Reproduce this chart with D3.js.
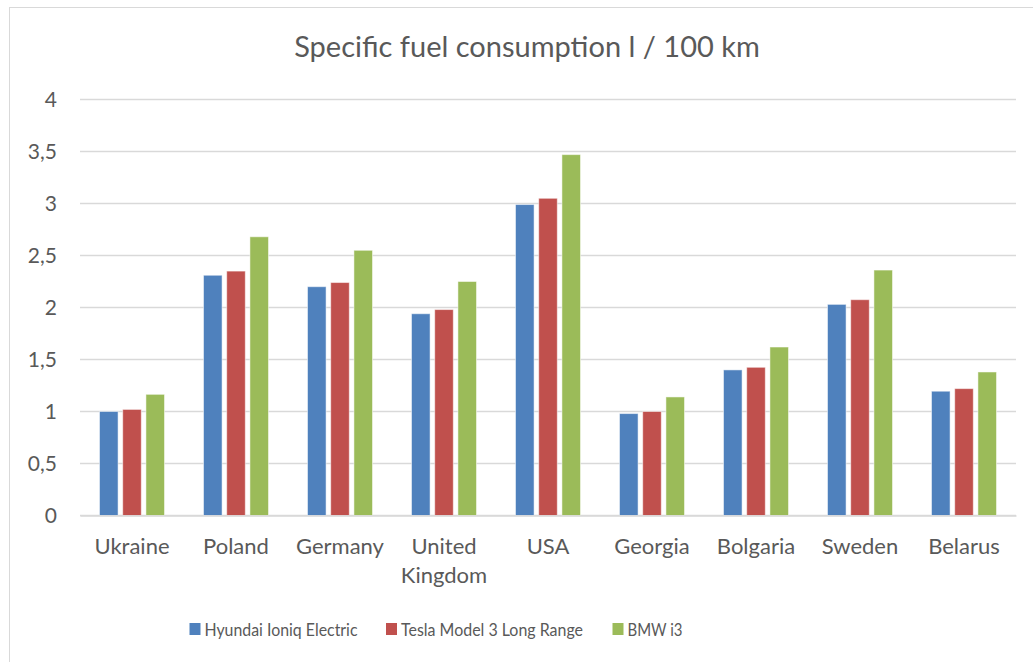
<!DOCTYPE html>
<html>
<head>
<meta charset="utf-8">
<script src="https://cdn.jsdelivr.net/npm/d3@7"></script>
<style>
  body { margin: 0; background: #fff; }
  text { font-family: Lato, "Open Sans", sans-serif; fill: #595959; }
</style>
</head>
<body>
<div id="chart"></div>
<script>
const countries = ["Ukraine", "Poland", "Germany", "United Kingdom", "USA", "Georgia", "Bolgaria", "Sweden", "Belarus"];
const seriesNames = ["Hyundai Ioniq Electric", "Tesla Model 3 Long Range", "BMW i3"];
const hyundai = [1.0, 2.31, 2.2, 1.94, 2.99, 0.98, 1.4, 2.03, 1.195];
const tesla = [1.02, 2.35, 2.24, 1.98, 3.05, 1.0, 1.425, 2.075, 1.22];
const bmw = [1.165, 2.68, 2.55, 2.25, 3.47, 1.14, 1.62, 2.36, 1.38];
const yTicks = [0, 0.5, 1, 1.5, 2, 2.5, 3, 3.5, 4];
const colors = ["#4F81BD", "#C0504D", "#9BBB59"];

const width = 1033,
  height = 662,
  margin = ({ top: 99.5, right: 17, bottom: 146.5, left: 80 });

const values = [hyundai, tesla, bmw];
const data = countries.map((c, i) => ({
  country: c,
  vals: seriesNames.map((s, j) => ({ series: s, idx: j, value: values[j][i] }))
}));

const svg = d3.select("#chart")
  .append("svg")
  .attr("width", width)
  .attr("height", height);

// outer chart border
svg.append("rect")
  .attr("x", 9.5).attr("y", 7.5)
  .attr("width", 1030).attr("height", 660)
  .attr("fill", "#fff")
  .attr("stroke", "#d9d9d9");

const x0 = d3.scaleBand()
  .domain(countries)
  .range([margin.left, width - margin.right]);

const groupW = 65;
const x1 = d3.scaleBand()
  .domain(seriesNames)
  .range([0, groupW])
  .paddingInner(0.2);

const y = d3.scaleLinear()
  .domain([0, 4])
  .range([height - margin.bottom, margin.top]);

// gridlines
svg.append("g")
  .selectAll("line")
  .data(yTicks)
  .join("line")
  .attr("x1", margin.left)
  .attr("x2", width - margin.right)
  .attr("y1", d => y(d))
  .attr("y2", d => y(d))
  .attr("stroke", "#d9d9d9")
  .attr("stroke-width", 1.5);

// y axis labels
const yAxis = d3.axisLeft(y)
  .tickValues(yTicks)
  .tickSize(0)
  .tickPadding(0)
  .tickFormat(d => String(d).replace(".", ","));

svg.append("g")
  .attr("transform", `translate(57,0)`)
  .call(yAxis)
  .call(g => g.select(".domain").remove())
  .call(g => g.selectAll("text")
    .attr("font-size", 21)
    .attr("font-family", "Lato, sans-serif")
    .attr("fill", "#595959"));

// bars
const groups = svg.append("g")
  .selectAll("g")
  .data(data)
  .join("g")
  .attr("transform", d => `translate(${x0(d.country) + (x0.bandwidth() - groupW) / 2},0)`);

groups.selectAll("rect")
  .data(d => d.vals)
  .join("rect")
  .attr("x", d => x1(d.series))
  .attr("y", d => y(d.value))
  .attr("width", x1.bandwidth())
  .attr("height", d => y(0) - y(d.value))
  .attr("fill", d => colors[d.idx])
  .attr("stroke", "#fff")
  .attr("stroke-opacity", 0.5)
  .attr("stroke-width", 1);

// x axis
const xAxis = d3.axisBottom(x0).tickSize(0).tickPadding(0);
svg.append("g")
  .attr("transform", `translate(0,${y(0)})`)
  .call(xAxis)
  .call(g => g.select(".domain").attr("stroke", "#d9d9d9").attr("stroke-width", 1.5))
  .call(g => g.selectAll(".tick text").remove());

const xLabels = svg.append("g")
  .selectAll("text")
  .data(countries)
  .join("text")
  .attr("x", d => x0(d) + x0.bandwidth() / 2)
  .attr("y", 554)
  .attr("text-anchor", "middle")
  .attr("font-size", 22);

xLabels.each(function(d) {
  const words = d === "United Kingdom" ? ["United", "Kingdom"] : [d];
  const t = d3.select(this);
  words.forEach((w, i) => {
    t.append("tspan")
      .attr("x", x0(d) + x0.bandwidth() / 2)
      .attr("dy", i === 0 ? 0 : 28.5)
      .text(w);
  });
});

// title
svg.append("text")
  .attr("x", 527)
  .attr("y", 57)
  .attr("text-anchor", "middle")
  .attr("font-size", 29)
  .text("Specific fuel consumption l / 100 km");

// legend
const legendX = [189.5, 386, 612.5];
const legendW = [153, 182, 55];
const legend = svg.append("g")
  .selectAll("g")
  .data(seriesNames)
  .join("g")
  .attr("transform", (d, i) => `translate(${legendX[i]},623)`);

legend.append("rect")
  .attr("width", 11)
  .attr("height", 12)
  .attr("fill", (d, i) => colors[i]);

legend.append("text")
  .attr("x", 15)
  .attr("y", 12.5)
  .attr("font-size", 18)
  .attr("textLength", (d, i) => legendW[i])
  .attr("lengthAdjust", "spacingAndGlyphs")
  .text(d => d);
</script>
</body>
</html>
